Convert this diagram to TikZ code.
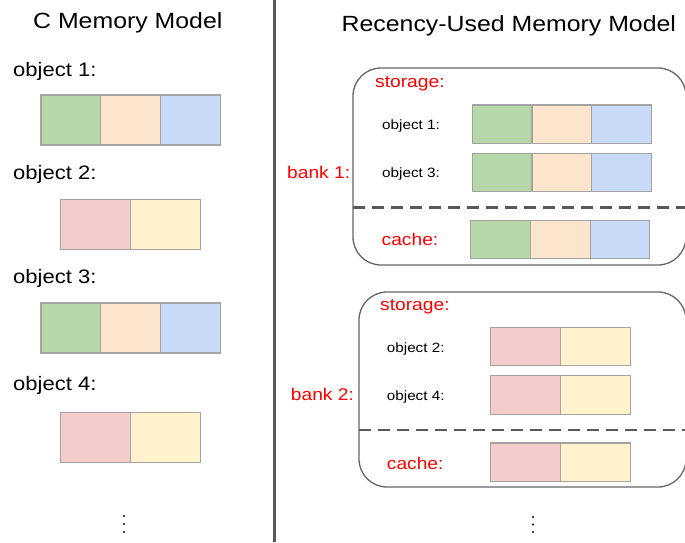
\documentclass[tikz,border=0pt]{standalone}
\usepackage{fontspec}
\setmainfont[FakeStretch=1.13]{Liberation Sans}
\usetikzlibrary{positioning}

\definecolor{cgreen}{HTML}{B6D7A8}
\definecolor{cpeach}{HTML}{FCE5CD}
\definecolor{cblue}{HTML}{C9DAF8}
\definecolor{cpink}{HTML}{F4CCCC}
\definecolor{cyellow}{HTML}{FFF2CC}
\definecolor{cellline}{HTML}{A3A3A3}
\definecolor{bankline}{HTML}{666666}
\definecolor{divline}{HTML}{595959}
\definecolor{labred}{HTML}{FF0000}

\tikzset{
  cell/.style={draw=cellline, line width=1.1pt, inner sep=0pt, outer sep=0pt, rectangle},
  bigcell/.style={cell, minimum height=50pt},
  smallcell/.style={cell, minimum height=38.5pt},
  wide/.style={minimum width=59.7pt},
  half/.style={minimum width=70.3pt},
  title/.style={font=\fontsize{22}{26}\selectfont, anchor=base west, inner sep=0pt},
  objlabel/.style={font=\fontsize{19.5}{23}\selectfont, anchor=base west, inner sep=0pt},
  sublabel/.style={font=\fontsize{13.5}{16}\selectfont, anchor=base west, inner sep=0pt},
  redlabel/.style={font=\fontsize{17}{20}\selectfont, text=labred, anchor=base west, inner sep=0pt},
  bank/.style={draw=bankline, line width=1.3pt, rounded corners=28pt, rectangle, inner sep=0pt, outer sep=0pt, anchor=north west},
  splitline/.style={draw=divline, line width=2.4pt, dash pattern=on 12pt off 7pt},
  dotmark/.style={fill=black, circle, inner sep=0pt, minimum size=2.4pt},
}

\begin{document}
\begin{tikzpicture}[x=1pt, y=-1pt]
\useasboundingbox (0,0) rectangle (685,542);
\clip (0,0) rectangle (685,542);

% ---------- left column: C memory model ----------
\node[title] (ltitle) at (33,28.5) {C Memory Model};

\node[objlabel] (lo1) at (13,76) {object 1:};
\node[bigcell, wide, fill=cgreen, anchor=north west] (l1a) at (41,95) {};
\node[bigcell, wide, fill=cpeach, anchor=west] (l1b) at (l1a.east) {};
\node[bigcell, wide, fill=cblue, anchor=west] (l1c) at (l1b.east) {};

\node[objlabel] (lo2) at (13,179.5) {object 2:};
\node[bigcell, half, fill=cpink, anchor=north west] (l2a) at (60.3,199.5) {};
\node[bigcell, half, fill=cyellow, anchor=west] (l2b) at (l2a.east) {};

\node[objlabel] (lo3) at (13,283.5) {object 3:};
\node[bigcell, wide, fill=cgreen, anchor=north west] (l3a) at (41,303) {};
\node[bigcell, wide, fill=cpeach, anchor=west] (l3b) at (l3a.east) {};
\node[bigcell, wide, fill=cblue, anchor=west] (l3c) at (l3b.east) {};

\node[objlabel] (lo4) at (13,390) {object 4:};
\node[bigcell, half, fill=cpink, anchor=north west] (l4a) at (60.3,412.3) {};
\node[bigcell, half, fill=cyellow, anchor=west] (l4b) at (l4a.east) {};

\node[dotmark] (ld1) at (124,516) {};
\node[dotmark] (ld2) at (124,524) {};
\node[dotmark] (ld3) at (124,532) {};

% ---------- divider ----------
\coordinate (dtop) at (274.5,0);
\coordinate (dbot) at (274.5,542);
\draw[draw=divline, line width=3pt] (dtop) -- (dbot);

% ---------- right column: recency-used memory model ----------
\node[title] (rtitle) at (341.5,31.5) {Recency-Used Memory Model};

% bank 1
\node[bank, minimum width=333pt, minimum height=197pt] (bank1) at (353,68) {};
\node[redlabel] (b1lab) at (287,178) {bank 1:};
\node[redlabel] (b1st) at (375,87.3) {storage:};

\node[sublabel] (b1o1) at (382,129.5) {object 1:};
\node[smallcell, wide, fill=cgreen, anchor=north west] (r1a) at (472.3,105) {};
\node[smallcell, wide, fill=cpeach, anchor=west] (r1b) at (r1a.east) {};
\node[smallcell, wide, fill=cblue, anchor=west] (r1c) at (r1b.east) {};

\node[sublabel] (b1o3) at (382,177.5) {object 3:};
\node[smallcell, wide, fill=cgreen, anchor=north west] (r3a) at (472.3,153.3) {};
\node[smallcell, wide, fill=cpeach, anchor=west] (r3b) at (r3a.east) {};
\node[smallcell, wide, fill=cblue, anchor=west] (r3c) at (r3b.east) {};

\coordinate (s1r) at (690,207.3);
\draw[splitline] (bank1.west |- s1r) -- (s1r);

\node[redlabel] (b1ca) at (381.5,245) {cache:};
\node[smallcell, wide, fill=cgreen, anchor=north west] (c1a) at (470.7,220.3) {};
\node[smallcell, wide, fill=cpeach, anchor=west] (c1b) at (c1a.east) {};
\node[smallcell, wide, fill=cblue, anchor=west] (c1c) at (c1b.east) {};

% bank 2
\node[bank, minimum width=327pt, minimum height=195pt] (bank2) at (359,292) {};
\node[redlabel] (b2lab) at (290.7,400.7) {bank 2:};
\node[redlabel] (b2st) at (380,310.7) {storage:};

\node[sublabel] (b2o2) at (386.7,352.7) {object 2:};
\node[smallcell, half, fill=cpink, anchor=north west] (r2a) at (490.3,327.3) {};
\node[smallcell, half, fill=cyellow, anchor=west] (r2b) at (r2a.east) {};

\node[sublabel] (b2o4) at (386.7,400) {object 4:};
\node[smallcell, half, fill=cpink, anchor=north west] (r4a) at (490.3,375.7) {};
\node[smallcell, half, fill=cyellow, anchor=west] (r4b) at (r4a.east) {};

\coordinate (s2r) at (690,429.7);
\draw[splitline] (bank2.west |- s2r) -- (s2r);

\node[redlabel] (b2ca) at (386.7,469.3) {cache:};
\node[smallcell, half, fill=cpink, anchor=north west] (c2a) at (490.3,443) {};
\node[smallcell, half, fill=cyellow, anchor=west] (c2b) at (c2a.east) {};

\node[dotmark] (rd1) at (533,517) {};
\node[dotmark] (rd2) at (533,524.5) {};
\node[dotmark] (rd3) at (533,532) {};
\end{tikzpicture}
\end{document}
